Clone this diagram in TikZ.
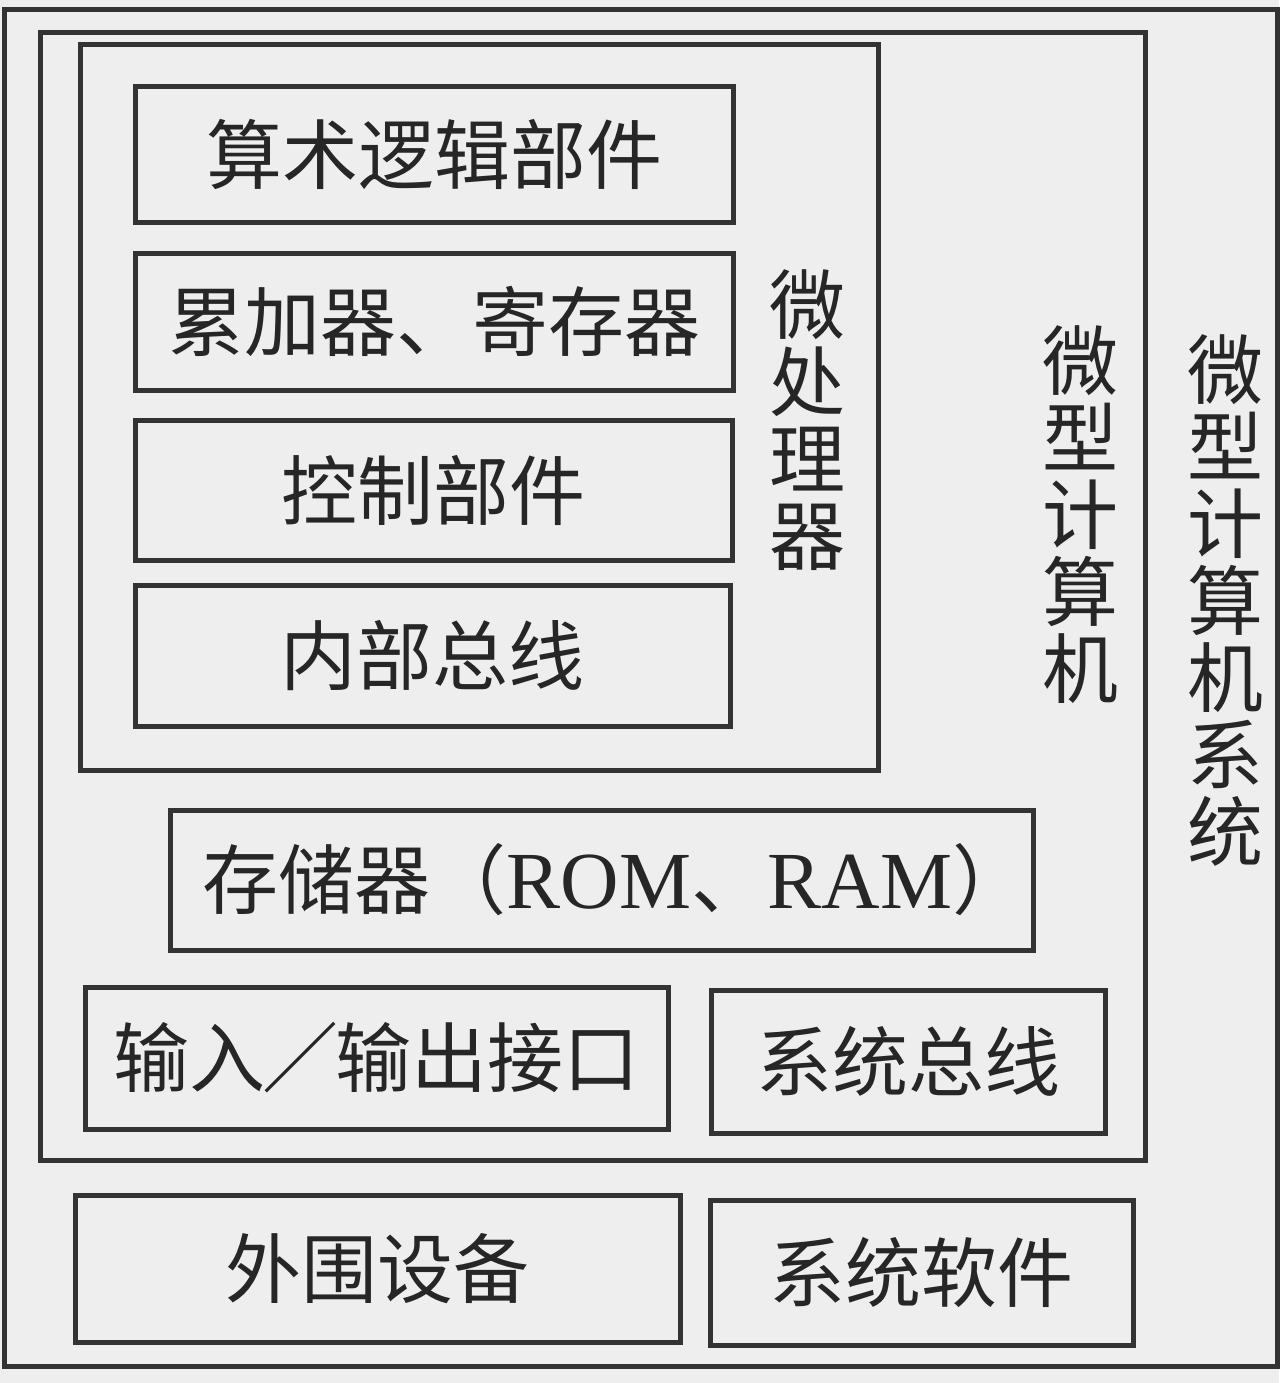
\documentclass[tikz,border=0pt]{standalone}
\usepackage{fontspec}
\setmainfont{Liberation Serif}
\newfontfamily\cjk{Noto Sans CJK SC}
\newcommand\cjkbig{\cjk\fontsize{76}{77}\selectfont}
\newcommand\latinbig{\rmfamily\fontsize{81}{77}\selectfont}
\definecolor{linec}{HTML}{333333}
\definecolor{textc}{HTML}{262626}
\definecolor{bgc}{HTML}{EEEEEE}
\begin{document}
\begin{tikzpicture}[x=1pt,y=-1pt,
  box/.style={draw=linec, line width=5pt, inner sep=0pt, font=\cjkbig, text=textc},
  vlabel/.style={inner sep=0pt, align=center, font=\cjkbig, text=textc}]
\fill[bgc] (0,0) rectangle (1279,1383);
\useasboundingbox (0,0) rectangle (1279,1383);
% containers
\node[box, minimum width=1273pt, minimum height=1356pt] (system) at (640.5,688) {};
\node[box, minimum width=1105pt, minimum height=1127pt] (computer) at (592.5,596.5) {};
\node[box, minimum width=798pt, minimum height=725pt] (cpu) at (479,407.5) {};
% cpu parts
\node[box, minimum width=598pt, minimum height=135pt] (alu) at (434,154.5) {算术逻辑部件};
\node[box, minimum width=598pt, minimum height=137pt] (acc) at (434,321.5) {累加器、寄存器};
\node[box, minimum width=597pt, minimum height=140pt] (ctrl) at (433.5,490) {控制部件};
\node[box, minimum width=595pt, minimum height=141pt] (ibus) at (432.5,655.5) {内部总线};
\node[vlabel] (cpulabel) at (807,420) {微\\处\\理\\器};
% computer parts
\node[box, minimum width=863pt, minimum height=140pt] (mem) at (601.5,880) {\hspace*{28pt}存储器（{\latinbig ROM}、{\latinbig RAM}）};
\node[box, minimum width=583pt, minimum height=142pt] (io) at (376.5,1058) {输入\kern-3pt／\kern-3pt输出接口};
\node[box, minimum width=394pt, minimum height=143pt] (sbus) at (908,1061.5) {系统总线};
\node[vlabel] (complabel) at (1080,515) {微\\型\\计\\算\\机};
% system parts
\node[box, minimum width=605pt, minimum height=147pt] (periph) at (377.5,1268.5) {外围设备};
\node[box, minimum width=423pt, minimum height=145pt] (soft) at (921.5,1272.5) {系统软件};
\node[vlabel] (syslabel) at (1225,600) {微\\型\\计\\算\\机\\系\\统};
\end{tikzpicture}
\end{document}
